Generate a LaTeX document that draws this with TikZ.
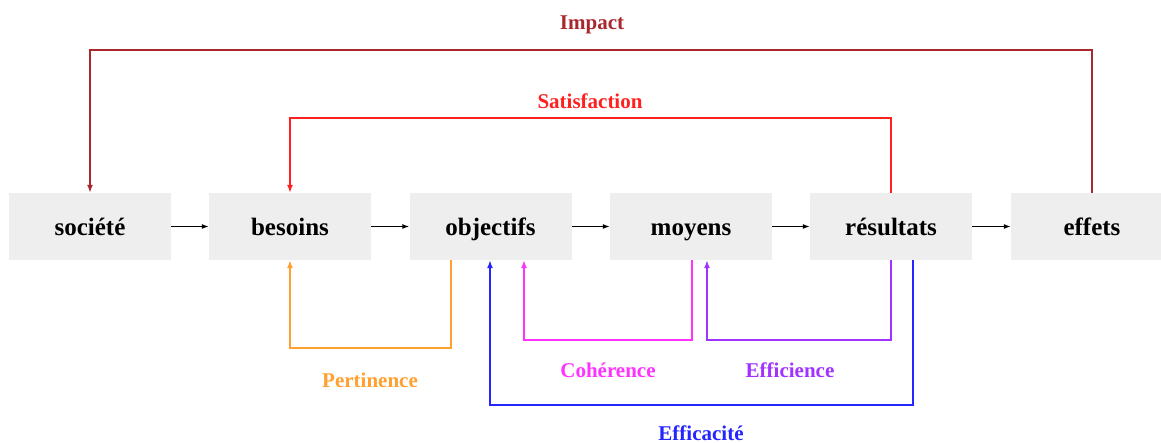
\documentclass[tikz,border=0pt]{standalone}
\usepackage{fontspec}
\setmainfont{Liberation Serif}
\usetikzlibrary{arrows.meta}
\definecolor{boxgray}{HTML}{EEEEEE}
\definecolor{impactc}{HTML}{A8282E}
\definecolor{satc}{HTML}{FF2020}
\definecolor{pertc}{HTML}{FFA030}
\definecolor{cohc}{HTML}{FF33FF}
\definecolor{effic}{HTML}{A033FF}
\definecolor{efcc}{HTML}{2525FF}
\tikzset{
  stage/.style={fill=boxgray, minimum width=162pt, minimum height=67pt, inner sep=0pt,
    text height=22pt, text depth=3pt,
    font=\fontsize{25}{30}\selectfont\bfseries},
  flow/.style={line width=1.3pt, -{Latex[length=7pt,width=5pt]}},
  loop/.style={line width=1.5pt, -{Latex[length=8pt,width=6pt]}},
  tag/.style={font=\fontsize{21}{25}\selectfont\bfseries, inner sep=0pt}
}
\begin{document}
\begin{tikzpicture}[x=1pt, y=-1pt]
\useasboundingbox (0,0) rectangle (1161,443);

% chain of stages
\node[stage] (soc) at (90,226.5)   {société};
\node[stage] (bes) at (290,226.5)  {besoins};
\node[stage] (obj) at (490.5,226.5){objectifs};
\node[stage] (moy) at (691,226.5)  {moyens};
\node[stage] (res) at (891,226.5)  {résultats};
\node[stage] (eff) at (1092,226.5) {effets};

\draw[flow] (soc.east) -- (bes.west);
\draw[flow] (bes.east) -- (obj.west);
\draw[flow] (obj.east) -- (moy.west);
\draw[flow] (moy.east) -- (res.west);
\draw[flow] (res.east) -- (eff.west);

% feedback loops above the chain
\draw[loop, impactc] (eff.north) -- ++(0,-143) -| (soc.north);
\node[tag, text=impactc] (limp) at (592,25) {Impact};

\draw[loop, satc] (res.north) -- ++(0,-75) -| (bes.north);
\node[tag, text=satc] (lsat) at (590,101) {Satisfaction};

% evaluation loops below the chain
\draw[loop, pertc] (obj.south -| 451,0) -- ++(0,88) -| (bes.south);
\node[tag, text=pertc] (lpert) at (370,380) {Pertinence};

\draw[loop, cohc] (moy.south -| 692,0) -- ++(0,80) -| (obj.south -| 524,0);
\node[tag, text=cohc] (lcoh) at (608,370) {Cohérence};

\draw[loop, effic] (res.south -| 891,0) -- ++(0,80) -| (moy.south -| 707,0);
\node[tag, text=effic] (leffi) at (790,370) {Efficience};

\draw[loop, efcc] (res.south -| 913,0) -- ++(0,145) -| (obj.south -| 490,0);
\node[tag, text=efcc] (lefc) at (701,433) {Efficacité};
\end{tikzpicture}
\end{document}
